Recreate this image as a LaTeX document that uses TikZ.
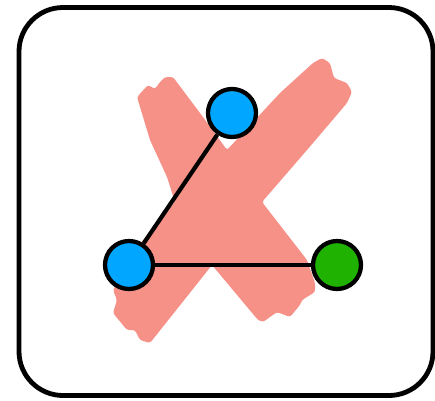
\documentclass[tikz,border=0pt]{standalone}
\begin{document}
\begin{tikzpicture}[x=1pt,y=-1pt,
  vert/.style={circle,draw=black,line width=4.3pt,minimum size=48pt,inner sep=0pt},
  link/.style={draw=black,line width=4.2pt},
  frame/.style={draw=black,line width=4.8pt,rounded corners=44pt}]
\definecolor{xred}{RGB}{245,145,135}
\definecolor{vblue}{RGB}{0,166,255}
\definecolor{vgreen}{RGB}{32,178,0}
\useasboundingbox (0,0) rectangle (435,400);
\draw[frame] (19,7.5) rectangle (433,395.5);
% brush X
\fill[xred,rounded corners=2.5pt]
  (137,97) -- (148,85) -- (155,89) -- (160,82) -- (165,77) -- (173,77)
  -- (200,113) -- (227,150)
  -- (280,93) -- (313,63)
  -- (322,58) -- (330,63) -- (334,78) -- (347,83) -- (352,92) -- (347,103)
  -- (307,150) -- (262,202)
  -- (307,260) -- (315,283)
  -- (315,292) -- (302,300) -- (300,305) -- (290,317) -- (277,312) -- (263,322) -- (258,320)
  -- (212,265)
  -- (150,343)
  -- (140,340) -- (135,330) -- (127,330) -- (113,313) -- (117,300) -- (113,290)
  -- (143,240) -- (175,202)
  -- (167,177) -- (150,140) -- cycle;
\node[vert,fill=vblue] (top) at (232,113) {};
\node[vert,fill=vblue] (left) at (129,265) {};
\node[vert,fill=vgreen] (right) at (337,265) {};
\draw[link] (left) -- (top);
\draw[link] (left) -- (right);
\end{tikzpicture}
\end{document}
